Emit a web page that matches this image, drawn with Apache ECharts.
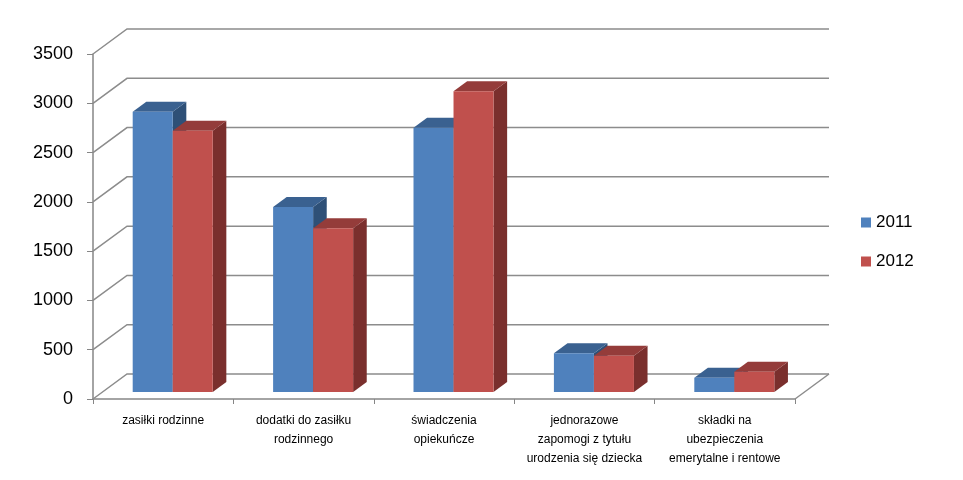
<!DOCTYPE html>
<html>
<head>
<meta charset="utf-8">
<script src="https://cdn.jsdelivr.net/npm/echarts@6/dist/echarts.min.js"></script>
<style>
  html, body { margin: 0; padding: 0; background: #fff; }
  #chart { width: 963px; height: 480px; }
</style>
</head>
<body>
<div id="chart"></div>
<script>
const categories = [
  'zasiłki rodzinne',
  'dodatki do zasiłku\nrodzinnego',
  'świadczenia\nopiekuńcze',
  'jednorazowe\nzapomogi z tytułu\nurodzenia się dziecka',
  'składki na\nubezpieczenia\nemerytalne i rentowe'
]
const seriesNames = ['2011', '2012']
const values2011 = [2844, 1877, 2681, 393, 145]
const values2012 = [2651, 1661, 3050, 368, 206]
const yTicks = [0, 500, 1000, 1500, 2000, 2500, 3000, 3500]

// 3D look
const WALL_DX = 34
const WALL_DY = 25
const FRONT_FRAC = 0.28
const DEPTH_FRAC = 0.4
const BAR_FRAC = 0.285

const faces = {
  '2011': { front: '#4F81BD', top: '#3A6190', side: '#2E5077' },
  '2012': { front: '#C0504D', top: '#943C3A', side: '#7A2F2D' }
}

const chart = echarts.init(document.getElementById('chart'))

const barRender = (name, slot) => (params, api) => {
  const i = api.value(0)
  const v = api.value(1)
  const base = api.coord([i, 0])
  const top = api.coord([i, v])
  const band = api.size([1, 0])[0]
  const w = band * BAR_FRAC
  const x0 = base[0] + WALL_DX * FRONT_FRAC + slot * w
  const x1 = x0 + w
  const yb = base[1] - WALL_DY * FRONT_FRAC
  const yt = top[1] - WALL_DY * FRONT_FRAC
  const dx = WALL_DX * DEPTH_FRAC
  const dy = WALL_DY * DEPTH_FRAC
  const c = faces[name]
  return {
    type: 'group',
    children: [
      { type: 'polygon', shape: { points: [[x1, yb], [x1 + dx, yb - dy], [x1 + dx, yt - dy], [x1, yt]] }, style: { fill: c.side } },
      { type: 'polygon', shape: { points: [[x0, yt], [x1, yt], [x1 + dx, yt - dy], [x0 + dx, yt - dy]] }, style: { fill: c.top } },
      { type: 'rect', shape: { x: x0, y: yt, width: w, height: yb - yt }, style: { fill: c.front } }
    ]
  }
}

const wallRender = (params, api) => {
  const cs = params.coordSys
  const v = api.value(1)
  const y = api.coord([0, v])[1]
  const lineStyle = { stroke: '#8c8c8c', lineWidth: 1.5, fill: null }
  const children = [{
    type: 'polyline',
    shape: { points: [[cs.x, y], [cs.x + WALL_DX, y - WALL_DY], [cs.x + cs.width + WALL_DX, y - WALL_DY]] },
    style: lineStyle
  }]
  if (v === 0) {
    children.push({
      type: 'polyline',
      shape: { points: [[cs.x + cs.width, y], [cs.x + cs.width + WALL_DX, y - WALL_DY]] },
      style: lineStyle
    })
  }
  return { type: 'group', children }
}

const option = {
  animation: false,
  color: [faces['2011'].front, faces['2012'].front],
  legend: {
    data: seriesNames,
    orient: 'vertical',
    left: 856,
    top: 209,
    icon: 'rect',
    itemWidth: 10,
    itemHeight: 10,
    itemGap: 22,
    textStyle: { fontFamily: 'Liberation Sans', fontSize: 17, color: '#000' }
  },
  grid: {
    left: 93,
    right: 168,
    top: 54,
    bottom: 81
  },
  xAxis: {
    type: 'category',
    data: categories,
    axisLine: { lineStyle: { color: '#868686', width: 1.5 } },
    axisTick: { show: true, length: 5, lineStyle: { color: '#868686' } },
    axisLabel: {
      interval: 0,
      margin: 12,
      fontFamily: 'Liberation Sans',
      fontSize: 12,
      lineHeight: 19,
      color: '#000'
    },
    splitLine: { show: false }
  },
  yAxis: {
    type: 'value',
    min: 0,
    max: 3500,
    interval: 500,
    axisLine: { show: true, lineStyle: { color: '#868686', width: 1.5 } },
    axisTick: { show: true, length: 6, lineStyle: { color: '#868686' } },
    axisLabel: {
      margin: 20,
      fontFamily: 'Liberation Sans',
      fontSize: 18,
      color: '#000',
      formatter: v => String(v)
    },
    splitLine: { show: false }
  },
  series: [
    {
      type: 'custom',
      silent: true,
      z: 1,
      renderItem: wallRender,
      encode: { x: 0, y: 1 },
      data: yTicks.map(v => [0, v])
    },
    {
      name: seriesNames[0],
      type: 'custom',
      z: 2,
      itemStyle: { color: faces['2011'].front },
      renderItem: barRender('2011', -1),
      encode: { x: 0, y: 1 },
      data: values2011.map((v, i) => [i, v])
    },
    {
      name: seriesNames[1],
      type: 'custom',
      z: 3,
      itemStyle: { color: faces['2012'].front },
      renderItem: barRender('2012', 0),
      encode: { x: 0, y: 1 },
      data: values2012.map((v, i) => [i, v])
    }
  ]
}

chart.setOption(option)
</script>
</body>
</html>
